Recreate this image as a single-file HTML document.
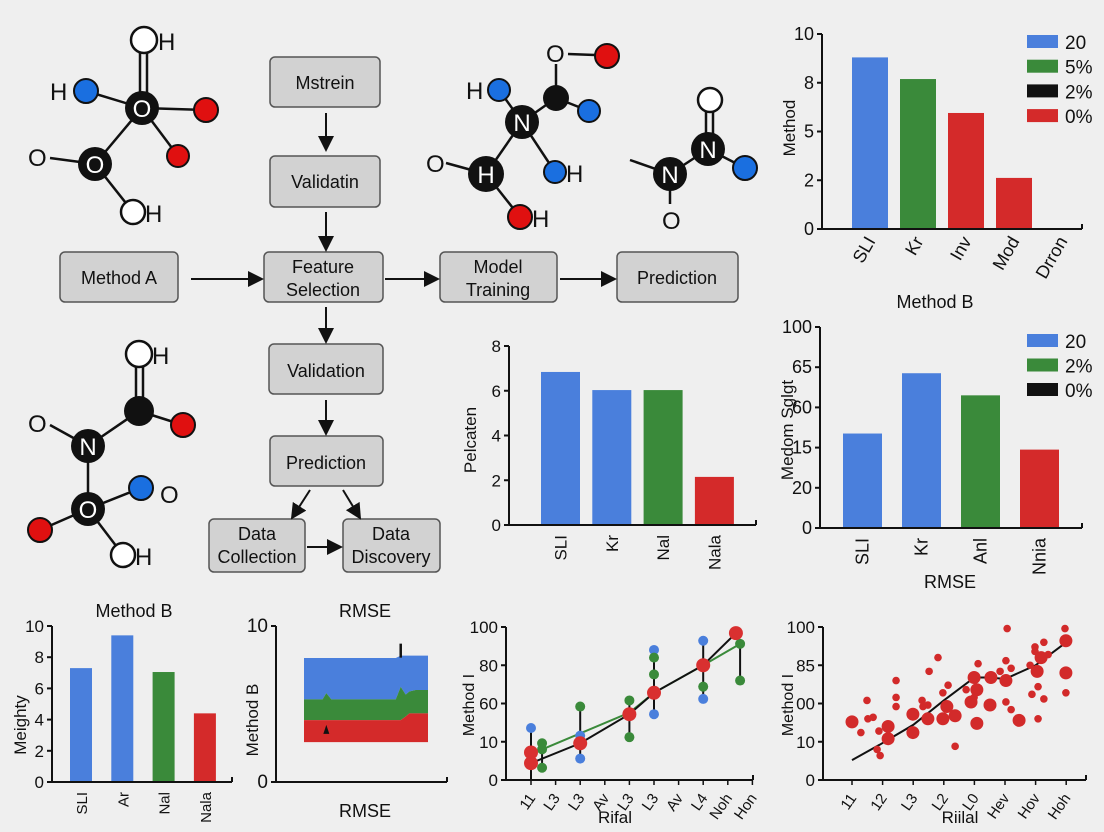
<!DOCTYPE html>
<html><head><meta charset="utf-8"><style>
html,body{margin:0;padding:0;background:#efefef;}
svg{display:block;font-family:"Liberation Sans",sans-serif;}
.box{fill:#d2d2d2;stroke:#555;stroke-width:1.5;}
.bt{font-size:18px;fill:#111;text-anchor:middle;}
.ar{stroke:#111;stroke-width:2;fill:none;}
.bd{stroke:#111;stroke-width:2.5;}
.at{font-size:24px;fill:#111;}
.tk{font-size:16px;fill:#111;}
</style></head><body>
<svg id="s" width="1104" height="832" viewBox="0 0 1104 832">
<defs><marker id="ah" markerWidth="8" markerHeight="8" refX="7" refY="4" orient="auto"><path d="M0,0 L8,4 L0,8 z" fill="#111"/></marker></defs>
<rect width="1104" height="832" fill="#efefef"/>
<g>
<rect class="box" x="270" y="57" width="110" height="50" rx="5"/><text class="bt" x="325" y="89">Mstrein</text>
<rect class="box" x="270" y="156" width="110" height="51" rx="5"/><text class="bt" x="325" y="188">Validatin</text>
<rect class="box" x="60" y="252" width="118" height="50" rx="5"/><text class="bt" x="119" y="284">Method A</text>
<rect class="box" x="264" y="252" width="119" height="50" rx="5"/><text class="bt" x="323" y="273">Feature</text><text class="bt" x="323" y="296">Selection</text>
<rect class="box" x="440" y="252" width="117" height="50" rx="5"/><text class="bt" x="498" y="273">Model</text><text class="bt" x="498" y="296">Training</text>
<rect class="box" x="617" y="252" width="121" height="50" rx="5"/><text class="bt" x="677" y="284">Prediction</text>
<rect class="box" x="269" y="344" width="114" height="50" rx="5"/><text class="bt" x="326" y="377">Validation</text>
<rect class="box" x="270" y="436" width="113" height="50" rx="5"/><text class="bt" x="326" y="469">Prediction</text>
<rect class="box" x="209" y="519" width="96" height="53" rx="5"/><text class="bt" x="257" y="540">Data</text><text class="bt" x="257" y="563">Collection</text>
<rect class="box" x="343" y="519" width="97" height="53" rx="5"/><text class="bt" x="391" y="540">Data</text><text class="bt" x="391" y="563">Discovery</text>
<g>
<line class="ar" x1="326" y1="113" x2="326" y2="150" marker-end="url(#ah)"/>
<line class="ar" x1="326" y1="212" x2="326" y2="250" marker-end="url(#ah)"/>
<line class="ar" x1="326" y1="307" x2="326" y2="342" marker-end="url(#ah)"/>
<line class="ar" x1="326" y1="400" x2="326" y2="434" marker-end="url(#ah)"/>
<line class="ar" x1="191" y1="279" x2="262" y2="279" marker-end="url(#ah)"/>
<line class="ar" x1="385" y1="279" x2="438" y2="279" marker-end="url(#ah)"/>
<line class="ar" x1="560" y1="279" x2="615" y2="279" marker-end="url(#ah)"/>
<line class="ar" x1="310" y1="490" x2="292" y2="518" marker-end="url(#ah)"/>
<line class="ar" x1="343" y1="490" x2="360" y2="518" marker-end="url(#ah)"/>
<line class="ar" x1="307" y1="547" x2="341" y2="547" marker-end="url(#ah)"/>
</g></g>
<g>
<g>
<line class="bd" x1="140" y1="52" x2="140" y2="95"/><line class="bd" x1="147" y1="52" x2="147" y2="95"/>
<line class="bd" x1="86" y1="91" x2="142" y2="108"/><line class="bd" x1="142" y1="108" x2="206" y2="110"/>
<line class="bd" x1="142" y1="108" x2="178" y2="156"/><line class="bd" x1="142" y1="108" x2="95" y2="164"/>
<line class="bd" x1="50" y1="158" x2="95" y2="164"/><line class="bd" x1="95" y1="164" x2="133" y2="212"/>
<circle cx="144" cy="40" r="13" fill="#fff" stroke="#111" stroke-width="2.5"/><text class="at" x="158" y="50">H</text>
<circle cx="142" cy="108" r="17" fill="#111"/><text class="at" x="142" y="117" text-anchor="middle" style="fill:#fff">O</text>
<circle cx="86" cy="91" r="12" fill="#1a6fe0" stroke="#111" stroke-width="2"/><text class="at" x="50" y="100">H</text>
<circle cx="206" cy="110" r="12" fill="#e01010" stroke="#111" stroke-width="2"/>
<circle cx="178" cy="156" r="11" fill="#e01010" stroke="#111" stroke-width="2"/>
<circle cx="95" cy="164" r="17" fill="#111"/><text class="at" x="95" y="173" text-anchor="middle" style="fill:#fff">O</text>
<text class="at" x="28" y="166">O</text>
<circle cx="133" cy="212" r="12" fill="#fff" stroke="#111" stroke-width="2.5"/><text class="at" x="145" y="222">H</text>
</g>
<g>
<line class="bd" x1="568" y1="54" x2="595" y2="55"/><line class="bd" x1="556" y1="64" x2="556" y2="86"/>
<line class="bd" x1="499" y1="90" x2="522" y2="122"/><line class="bd" x1="522" y1="122" x2="556" y2="98"/>
<line class="bd" x1="556" y1="98" x2="589" y2="111"/><line class="bd" x1="522" y1="122" x2="555" y2="172"/>
<line class="bd" x1="522" y1="122" x2="486" y2="174"/><line class="bd" x1="446" y1="163" x2="486" y2="174"/>
<line class="bd" x1="486" y1="174" x2="520" y2="217"/>
<text class="at" x="546" y="62">O</text>
<circle cx="607" cy="56" r="12" fill="#e01010" stroke="#111" stroke-width="2"/>
<circle cx="556" cy="98" r="13" fill="#111"/>
<circle cx="499" cy="90" r="11" fill="#1a6fe0" stroke="#111" stroke-width="2"/><text class="at" x="466" y="99">H</text>
<circle cx="522" cy="122" r="17" fill="#111"/><text class="at" x="522" y="131" text-anchor="middle" style="fill:#fff">N</text>
<circle cx="589" cy="111" r="11" fill="#1a6fe0" stroke="#111" stroke-width="2"/>
<circle cx="555" cy="172" r="11" fill="#1a6fe0" stroke="#111" stroke-width="2"/><text class="at" x="566" y="182">H</text>
<circle cx="486" cy="174" r="18" fill="#111"/><text class="at" x="486" y="183" text-anchor="middle" style="fill:#fff">H</text>
<text class="at" x="426" y="172">O</text>
<circle cx="520" cy="217" r="12" fill="#e01010" stroke="#111" stroke-width="2"/><text class="at" x="532" y="227">H</text>
</g>
<g>
<line class="bd" x1="706" y1="112" x2="706" y2="135"/><line class="bd" x1="713" y1="112" x2="713" y2="135"/>
<line class="bd" x1="708" y1="149" x2="745" y2="168"/><line class="bd" x1="708" y1="149" x2="670" y2="174"/>
<line class="bd" x1="630" y1="160" x2="670" y2="174"/><line class="bd" x1="670" y1="190" x2="670" y2="204"/>
<circle cx="710" cy="100" r="12" fill="#fff" stroke="#111" stroke-width="2.5"/>
<circle cx="708" cy="149" r="17" fill="#111"/><text class="at" x="708" y="158" text-anchor="middle" style="fill:#fff">N</text>
<circle cx="745" cy="168" r="12" fill="#1a6fe0" stroke="#111" stroke-width="2"/>
<circle cx="670" cy="174" r="17" fill="#111"/><text class="at" x="670" y="183" text-anchor="middle" style="fill:#fff">N</text>
<text class="at" x="662" y="229">O</text>
</g>
<g>
<line class="bd" x1="136" y1="366" x2="136" y2="400"/><line class="bd" x1="143" y1="366" x2="143" y2="400"/>
<line class="bd" x1="139" y1="411" x2="183" y2="425"/><line class="bd" x1="139" y1="411" x2="88" y2="446"/>
<line class="bd" x1="50" y1="425" x2="88" y2="446"/><line class="bd" x1="88" y1="446" x2="88" y2="509"/>
<line class="bd" x1="88" y1="509" x2="141" y2="488"/><line class="bd" x1="88" y1="509" x2="40" y2="530"/>
<line class="bd" x1="88" y1="509" x2="123" y2="555"/>
<circle cx="139" cy="354" r="13" fill="#fff" stroke="#111" stroke-width="2.5"/><text class="at" x="152" y="364">H</text>
<circle cx="139" cy="411" r="15" fill="#111"/>
<circle cx="183" cy="425" r="12" fill="#e01010" stroke="#111" stroke-width="2"/>
<text class="at" x="28" y="432">O</text>
<circle cx="88" cy="446" r="17" fill="#111"/><text class="at" x="88" y="455" text-anchor="middle" style="fill:#fff">N</text>
<circle cx="88" cy="509" r="17" fill="#111"/><text class="at" x="88" y="518" text-anchor="middle" style="fill:#fff">O</text>
<circle cx="141" cy="488" r="12" fill="#1a6fe0" stroke="#111" stroke-width="2"/><text class="at" x="160" y="503">O</text>
<circle cx="40" cy="530" r="12" fill="#e01010" stroke="#111" stroke-width="2"/>
<circle cx="123" cy="555" r="12" fill="#fff" stroke="#111" stroke-width="2.5"/><text class="at" x="135" y="565">H</text>
</g></g>
<g id="charts"></g>
</svg>
<script>
// ---- chart data ----
var cats1 = ['SLI','Kr','Inv','Mod','Drron'];
var vals1 = [8.8,7.69,5.95,2.62,0];
var ticks1 = [0,2.5,5,7.5,10];
var tickLabels1 = ['0','2','5','8','10'];
var legend1 = ['20','5%','2%','0%'];

var cats2 = ['SLI','Kr','Anl','Nnia'];
var vals2 = [47,77,66,39];
var ticks2 = [0,20,40,60,80,100];
var tickLabels2 = ['0','20','15','60','65','100'];
var legend2 = ['20','2%','0%'];

var cats3 = ['SLI','Kr','Nal','Nala'];
var vals3 = [6.84,6.03,6.03,2.15];
var ticks3 = [0,2,4,6,8];
var tickLabels3 = ['0','2','4','6','8'];

var cats4 = ['SLI','Ar','Nal','Nala'];
var vals4 = [7.3,9.4,7.05,4.4];
var ticks4 = [0,2,4,6,8,10];
var tickLabels4 = ['0','2','4','6','8','10'];

var rmseX = [0,1.5,1.8,2.2,7.4,7.8,8.2,8.5,9,10];
var rmseRedBase = [2.56,2.56,2.56,2.56,2.56,2.56,2.56,2.56,2.56,2.56];
var rmseRedTop = [3.97,3.97,3.97,3.97,3.97,3.97,4.2,4.4,4.4,4.4];
var rmseGreenTop = [5.3,5.3,5.7,5.3,5.3,6.1,5.6,5.8,5.9,5.9];
var rmseBlueTop = [7.95,7.95,7.95,7.95,7.95,8.1,8.1,8.1,8.1,8.1];
var ticks5 = [0,10];
var tickLabels5 = ['0','10'];

var lineCats = ['11','L3','L3','Av','L3','L3','Av','L4','Noh','Hon'];
var lineTicks = [0,25,50,75,100];
var lineTickLabels = ['0','10','60','80','100'];
var blackLineX = [0,2,4,5,7,8.33];
var blackLineY = [11,24,43,57,75,96];
var greenLineX = [0.45,4,5,7,8.5];
var greenLineY = [20,44,57,75,89];
var redPtX = [0,0,2,4,5,7,8.33];
var redPtY = [18,11,24,43,57,75,96];
var greenPtX = [0.45,0.45,0.45,2,4,4,5,5,7,8.5,8.5];
var greenPtY = [24,20,8,48,52,28,80,69,61,89,65];
var bluePtX = [0,2,2,5,5,7,7];
var bluePtY = [34,29,14,85,43,91,53];
var errX = [0,0.45,2,4,5,7,8.5];
var errLo = [0,8,14,28,43,53,65];
var errHi = [34,24,48,52,85,91,89];

var scCats = ['11','12','L3','L2','L0','Hev','Hov','Hoh'];
var scTicks = [0,25,50,75,100];
var scTickLabels = ['0','10','00','85','100'];
var scX = [0,0.29,0.49,0.52,0.69,0.88,0.82,0.92,1.18,1.18,1.44,1.44,1.44,1.99,1.99,2.29,2.32,2.48,2.48,2.52,2.81,2.97,2.97,3.10,3.14,3.37,3.37,3.73,3.89,3.99,4.08,4.08,4.12,3.99,4.54,4.51,4.84,5.03,5.03,5.07,5.03,5.20,5.20,5.46,5.82,5.88,5.98,5.98,6.05,6.08,6.08,6.18,6.27,6.27,6.41,6.96,6.99,6.99,6.99];
var scY = [38,31,52,40,41,32,20,16,35,27,65,54,48,43,31,52,48,49,40,71,80,57,40,48,62,42,22,59,51,54,59,37,76,67,67,49,71,65,78,99,51,73,46,39,75,56,87,84,71,61,40,80,90,53,82,99,91,70,57];
var scBig = [1,0,0,0,0,0,0,0,1,1,0,0,0,1,1,0,0,0,1,0,0,0,1,1,0,1,0,0,1,0,1,1,0,1,1,1,0,1,0,0,0,0,0,1,0,0,0,0,1,0,0,1,0,0,0,0,1,1,0];
var scTrendX = [0,0.9,2,3,4,4.5,5,6,7];
var scTrendY = [13,23,36,52,67,67,66,75,90];

// ---- helpers ----
var NS='http://www.w3.org/2000/svg';
var root=document.getElementById('charts');
function mk(tag,attrs,parent){var e=document.createElementNS(NS,tag);for(var k in attrs)e.setAttribute(k,attrs[k]);(parent||root).appendChild(e);return e;}
function txt(parent,x,y,s,size,anchor,rot){var t=mk('text',{x:x,y:y,'font-size':size,'text-anchor':anchor||'middle',fill:'#111'},parent);if(rot)t.setAttribute('transform','rotate('+rot+' '+x+' '+y+')');t.textContent=s;return t;}
function lin(d0,d1,r0,r1){return function(v){return r0+(v-d0)/(d1-d0)*(r1-r0);};}
var BLUE='#4a7fdc',GREEN='#3a8a3a',RED='#d42a2a';

function axes(g,x0,yTop,y0,xEnd,yS,ticks,labels,fs){
  var a=mk('line',{x1:x0,y1:yTop,x2:x0,y2:y0,stroke:'#111','stroke-width':2},g);
  
  
  var b=mk('line',{x1:x0,y1:y0,x2:xEnd,y2:y0,stroke:'#111','stroke-width':2},g);
  
  
  mk('line',{x1:xEnd,y1:y0,x2:xEnd,y2:y0-5,stroke:'#111','stroke-width':2},g);
  for(var i=0;i<ticks.length;i++){var y=yS(ticks[i]);
    mk('line',{x1:x0-5,y1:y,x2:x0,y2:y,stroke:'#111','stroke-width':2},g);
    var t=txt(g,x0-8,y+6,labels[i],fs||17,'end');
    
    }
}
function barChart(name,o,cats,vals,ticks,labels){
  var g=mk('g',{});
  
  
  var yS=lin(o.d0,o.d1,o.y0,o.yTop);
  for(var i=0;i<cats.length;i++){
    var x=o.bx+i*o.step;
    if(vals[i]>0){var r=mk('rect',{x:x,y:yS(vals[i]),width:o.bw,height:o.y0-yS(vals[i]),fill:o.colors[i]},g);
      
      }
    var cx=x+o.bw/2+6, cy=o.y0+o.ly;
    var t=txt(g,cx,cy,cats[i],o.lfs||17,'end',o.rot);
    
    
  }
  axes(g,o.x0,o.yTop,o.y0,o.xEnd,yS,ticks,labels,o.tfs);
  return g;
}
function legend(g,items,colors,x,y,step){
  for(var i=0;i<items.length;i++){
    var r=mk('rect',{x:x,y:y+i*step,width:31,height:13,fill:colors[i]},g);
    
    
    var t=txt(g,x+38,y+i*step+14,items[i],19,'start');
    
    
  }
}

// Chart 1 top-right
var g1=barChart('chart-top-right',{d0:0,d1:10,y0:229,yTop:34,x0:822,xEnd:1082,bx:852,step:48,bw:36,colors:[BLUE,GREEN,RED,RED,RED],ly:12,rot:-60,lfs:18,tfs:18},cats1,vals1,ticks1,tickLabels1);
legend(g1,legend1,[BLUE,GREEN,'#111',RED],1027,35,24.7);
var t=txt(g1,795,128,'Method',17,'middle',-90);
t=txt(g1,935,308,'Method B',18);

// Chart 2 right-mid
var g2=barChart('chart-right-mid',{d0:0,d1:100,y0:528,yTop:327,x0:820,xEnd:1082,bx:843,step:59,bw:39,colors:[BLUE,BLUE,GREEN,RED],ly:10,rot:-90,lfs:18,tfs:18},cats2,vals2,ticks2,tickLabels2);
legend(g2,legend2,[BLUE,GREEN,'#111'],1027,334,24.5);
t=txt(g2,793,430,'Medom Sglgt',17,'middle',-90);
t=txt(g2,950,588,'RMSE',18);

// Chart 3 middle
var g3=barChart('chart-middle',{d0:0,d1:8,y0:525,yTop:346,x0:509,xEnd:756,bx:541,step:51.3,bw:39,colors:[BLUE,BLUE,GREEN,RED],ly:10,rot:-90,lfs:17},cats3,vals3,ticks3,tickLabels3);
t=txt(g3,476,440,'Pelcaten',17,'middle',-90);

// Chart 4 bottom-left
var g4=barChart('chart-bottom-left',{d0:0,d1:10,y0:782,yTop:626,x0:52,xEnd:232,bx:70,step:41.3,bw:22,colors:[BLUE,BLUE,GREEN,RED],ly:10,rot:-90,lfs:15,tfs:17},cats4,vals4,ticks4,tickLabels4);
t=txt(g4,134,617,'Method B',18);
t=txt(g4,26,725,'Meighty',17,'middle',-90);

// Chart 5 RMSE stacked area
(function(){
  var g=mk('g',{});
  
  
  var xS=lin(0,10,304,428),yS=lin(0,10,782,626);
  function area(top,bot,col,nm){
    var d='';for(var i=0;i<rmseX.length;i++)d+=(i?'L':'M')+xS(rmseX[i])+','+yS(top[i]);
    for(var j=rmseX.length-1;j>=0;j--)d+='L'+xS(rmseX[j])+','+yS(bot[j]);
    var p=mk('path',{d:d+'Z',fill:col},g);
    
    
  }
  area(rmseBlueTop,rmseGreenTop,BLUE,'area-blue');
  area(rmseGreenTop,rmseRedTop,GREEN,'area-green');
  area(rmseRedTop,rmseRedBase,RED,'area-red');
  mk('line',{x1:xS(7.8),y1:yS(8.1)-12,x2:xS(7.8),y2:yS(8.1)+2,stroke:'#111','stroke-width':2.5},g);
  mk('path',{d:'M'+(xS(1.8)-3)+','+(yS(3.6)+8)+'l3,-9 3,9z',fill:'#111'},g);
  axes(g,276,626,782,447,yS,ticks5,tickLabels5,19);
  var t=txt(g,365,617,'RMSE',18);
  t=txt(g,365,817,'RMSE',18);
  t=txt(g,258,720,'Method B',17,'middle',-90);
})();

// Chart 6 line chart
(function(){
  var g=mk('g',{});
  
  
  var xS=lin(0,1,531,555.6),yS=lin(0,100,780,627);
  axes(g,506,627,780,753,yS,lineTicks,lineTickLabels,17);
  for(var i=0;i<lineCats.length;i++){var x=xS(i);
    mk('line',{x1:x,y1:780,x2:x,y2:785,stroke:'#111','stroke-width':1.5},g);
    var t=txt(g,x+5,798,lineCats[i],15,'end',-55);
    
    }
  for(i=0;i<errX.length;i++)mk('line',{x1:xS(errX[i]),y1:yS(errLo[i]),x2:xS(errX[i]),y2:yS(errHi[i]),stroke:'#111','stroke-width':2},g);
  function poly(xs,ys,col,nm){var pts=[];for(var k=0;k<xs.length;k++)pts.push(xS(xs[k])+','+yS(ys[k]));
    var p=mk('polyline',{points:pts.join(' '),fill:'none',stroke:col,'stroke-width':2},g);
    
    }
  poly(greenLineX,greenLineY,GREEN,'line-green');
  poly(blackLineX,blackLineY,'#111','line-black');
  function pts(xs,ys,col,r,nm){for(var k=0;k<xs.length;k++){var c=mk('circle',{cx:xS(xs[k]),cy:yS(ys[k]),r:r,fill:col},g);
    
    }}
  pts(bluePtX,bluePtY,BLUE,5,'point-blue');
  pts(greenPtX,greenPtY,GREEN,5,'point-green');
  pts(redPtX,redPtY,'#d93030',7,'point-red');
  var t=txt(g,615,823,'Rifal',17);
  t=txt(g,474,705,'Method I',16,'middle',-90);
})();

// Chart 7 scatter
(function(){
  var g=mk('g',{});
  
  
  var xS=lin(0,1,852,882.6),yS=lin(0,100,780,627);
  axes(g,823,627,780,1086,yS,scTicks,scTickLabels,17);
  for(var i=0;i<scCats.length;i++){var x=xS(i);
    mk('line',{x1:x,y1:780,x2:x,y2:785,stroke:'#111','stroke-width':1.5},g);
    var t=txt(g,x+5,798,scCats[i],15,'end',-55);
    
    }
  var pts=[];for(i=0;i<scTrendX.length;i++)pts.push(xS(scTrendX[i])+','+yS(scTrendY[i]));
  var p=mk('polyline',{points:pts.join(' '),fill:'none',stroke:'#111','stroke-width':2},g);
  
  
  for(i=0;i<scX.length;i++){var c=mk('circle',{cx:xS(scX[i]),cy:yS(scY[i]),r:scBig[i]?6.5:3.8,fill:'#d22a2a'},g);
    
    }
  var t=txt(g,960,823,'Riilal',17);
  t=txt(g,793,705,'Method I',16,'middle',-90);
})();
</script>
</body></html>
